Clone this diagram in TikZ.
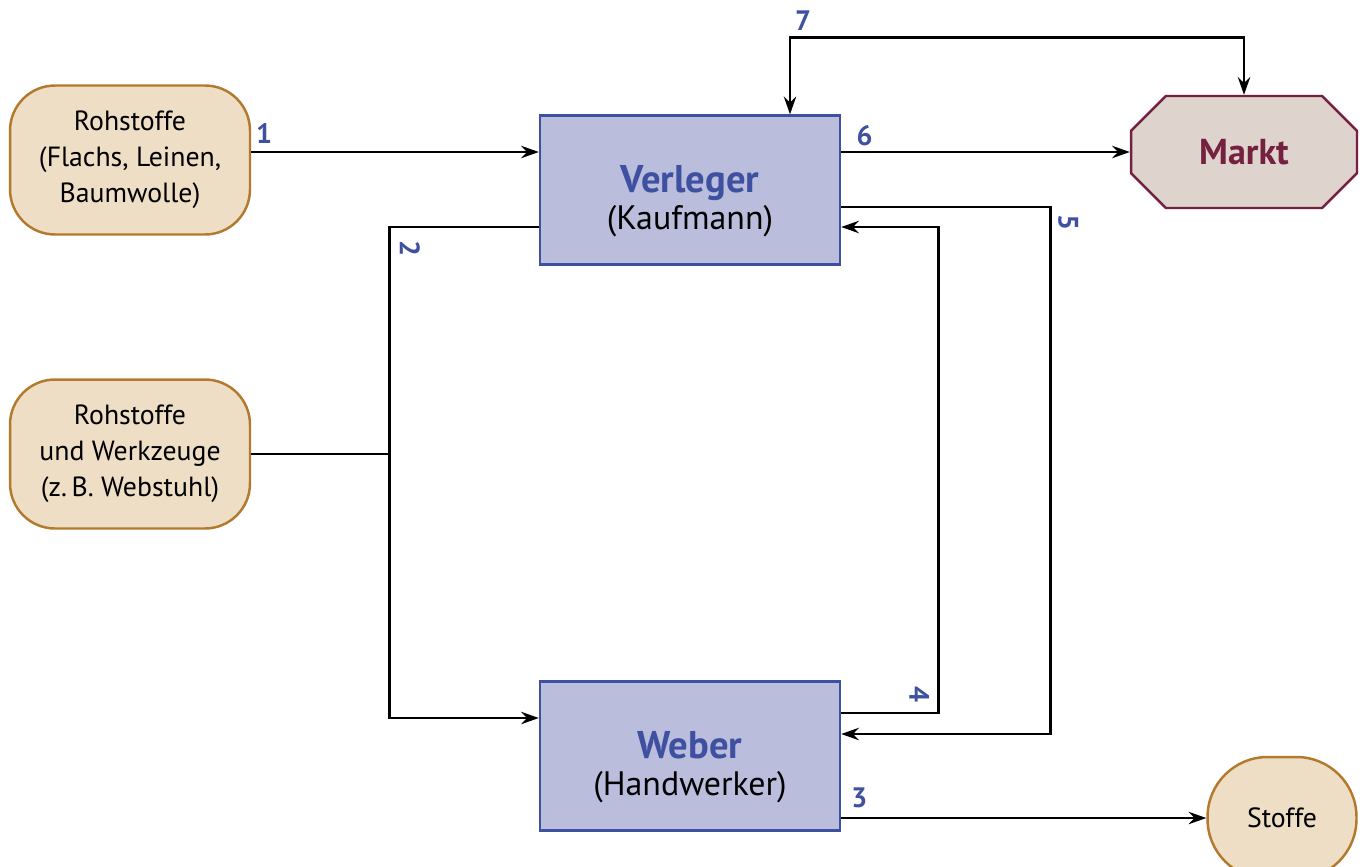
\documentclass[tikz,border=0pt]{standalone}
\usepackage{fontspec}
\setmainfont{PT Sans}
\usetikzlibrary{positioning, calc, arrows.meta, shapes.misc}
\definecolor{stoffbg}{HTML}{EDDEC5}
\definecolor{stoffline}{HTML}{B37A2E}
\definecolor{boxbg}{HTML}{BBBDDC}
\definecolor{boxline}{HTML}{3E50A0}
\definecolor{marktbg}{HTML}{DFD3CE}
\definecolor{marktline}{HTML}{73213F}
\tikzset{
    x=0.02cm, y=-0.02cm, % pixel-like grid, y pointing down
    >={Stealth[length=10pt, width=7pt]},
    flow/.style={->, line width=1.5pt, black},
    good/.style={draw=stoffline, fill=stoffbg, line width=1.4pt, rounded corners=0.9cm,
        align=center, font=\fontsize{15.8}{20.5}\selectfont, minimum width=4.8cm, minimum height=2.98cm},
    actor/.style={draw=boxline, fill=boxbg, line width=1.4pt, align=center,
        font=\fontsize{19.3}{21}\selectfont, minimum width=6cm, minimum height=2.98cm},
    num/.style={text=boxline, font=\bfseries\fontsize{16}{18}\selectfont, inner sep=1pt},
}
\newcommand{\headline}[1]{\rule{0pt}{28pt}\textcolor{boxline}{\bfseries\fontsize{22}{21}\selectfont #1}}

\begin{document}
\begin{tikzpicture}
    \useasboundingbox (0,0) rectangle (1365,866);

    % goods on the left
    \node[good] (roh1) at (130,160) {Rohstoffe\\(Flachs, Leinen,\\Baumwolle)};
    \node[good] (roh2) at (130,454) {Rohstoffe\\und Werkzeuge\\(z.\,B. Webstuhl)};

    % the two parties
    \node[actor] (verleger) at (690,190) {\headline{Verleger}\\(Kaufmann)};
    \node[actor] (weber) at (690,756) {\headline{Weber}\\(Handwerker)};

    \node[chamfered rectangle, chamfered rectangle xsep=0.54cm, chamfered rectangle ysep=0.44cm,
        draw=marktline, fill=marktbg, line width=1.4pt, text=marktline,
        font=\bfseries\fontsize{20.5}{22}\selectfont, minimum width=4.52cm, minimum height=2.24cm,
        inner sep=0pt] (markt) at (1244,152) {Markt};
    \node[good, rounded corners=1.2cm, minimum width=2.98cm, minimum height=2.44cm] (stoffe) at (1282,818) {Stoffe};

    % flows
    \draw[flow] (roh1.east |- markt.west) -- (verleger.west |- markt.west)
        node[num, pos=0, above right=3pt and 1pt] (n1) {1};
    \draw[flow] (verleger.east |- markt.west) -- (markt.west)
        node[num, pos=0, above right=2pt and 7pt] (n6) {6};
    \draw[flow] ($(verleger.west)+(0,37)$) -- ++(-149,0) coordinate (c2)
        |- ($(weber.west)+(0,-38)$);
    \draw[line width=1.5pt] (roh2.east) -- (roh2.east -| c2);
    \draw[flow] ($(weber.east)+(0,-43)$) -- ++(97,0) coordinate (c4)
        |- ($(verleger.east)+(0,37)$);
    \draw[flow] ($(verleger.east)+(0,17)$) -- ++(209,0) coordinate (c5)
        |- ($(weber.east)+(0,-22)$);
    \draw[flow] (weber.east |- stoffe.west) -- (stoffe.west)
        node[num, pos=0, above right=4pt and 4pt] (n3) {3};
    \draw[flow, <->] ($(verleger.north)+(100,0)$) -- ++(0,-77) coordinate (c7)
        -| (markt.north);

    \node[num, rotate=-90] (n2) at ($(c2)+(20,21)$) {2};
    \node[num, rotate=-90] (n4) at ($(c4)+(-19,-19)$) {4};
    \node[num, rotate=-90] (n5) at ($(c5)+(18,15)$) {5};
    \node[num] (n7) at ($(c7)+(13,-17)$) {7};
\end{tikzpicture}
\end{document}
